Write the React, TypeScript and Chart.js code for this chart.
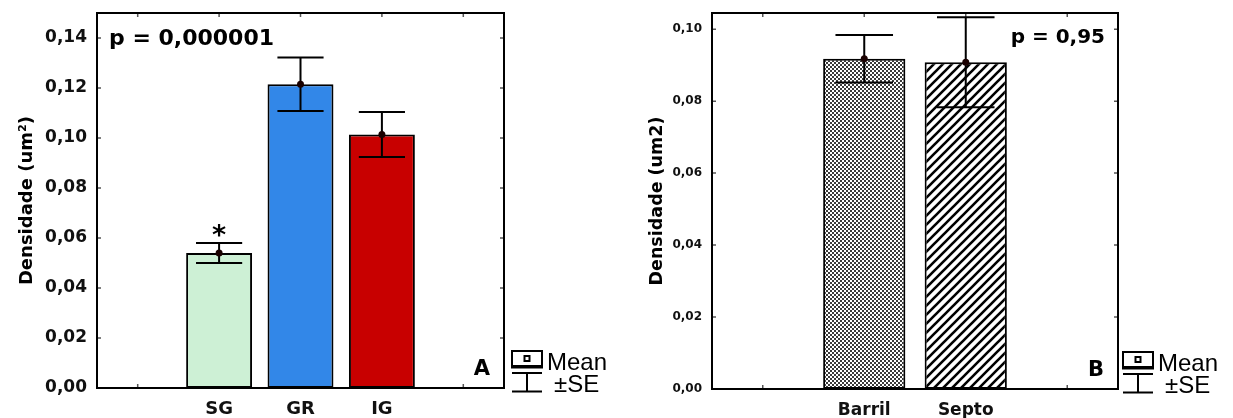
import React, { useEffect, useRef } from "react";
import { Chart, registerables } from "chart.js";

Chart.register(...registerables);

// ---------- Panel A data ----------
const categoriesA = ["", "SG", "GR", "IG", ""];
const meansA = [null, 0.054, 0.1215, 0.1014, null];
const seA = [null, 0.004, 0.0107, 0.009, null];
const marksA = ["", "*", "", "", ""];
const colorsA = ["#ffffff", "#cdf0d5", "#3287e8", "#c80000", "#ffffff"];
const yTicksA = [0, 0.02, 0.04, 0.06, 0.08, 0.1, 0.12, 0.14];
const yMaxA = 0.15;
const pTextA = "p = 0,000001";

// ---------- Panel B data ----------
const categoriesB = ["", "Barril", "Septo", ""];
const meansB = [null, 0.0918, 0.0908, null];
const seB = [null, 0.0066, 0.0125, null];
const marksB = ["", "", "", ""];
const fillsB = ["none", "dots", "hatch", "none"];
const yTicksB = [0, 0.02, 0.04, 0.06, 0.08, 0.1];
const yMaxB = 0.1045;
const pTextB = "p = 0,95";

const DV = "DejaVu Sans";
const LS = "Liberation Sans";

function dotPattern(ctx: CanvasRenderingContext2D) {
  const c = document.createElement("canvas");
  c.width = 4;
  c.height = 4;
  const g = c.getContext("2d")!;
  g.fillStyle = "#ffffff";
  g.fillRect(0, 0, 4, 4);
  g.fillStyle = "#3a3a3a";
  g.fillRect(0, 0, 2, 2);
  g.fillRect(2, 2, 2, 2);
  return ctx.createPattern(c, "repeat");
}

function hatchPattern(ctx: CanvasRenderingContext2D) {
  const s = 9;
  const c = document.createElement("canvas");
  c.width = s;
  c.height = s;
  const g = c.getContext("2d")!;
  g.fillStyle = "#ffffff";
  g.fillRect(0, 0, s, s);
  g.strokeStyle = "#000000";
  g.lineWidth = 2.6;
  g.beginPath();
  g.moveTo(-2, 2);
  g.lineTo(2, -2);
  g.moveTo(0, s);
  g.lineTo(s, 0);
  g.moveTo(s - 2, s + 2);
  g.lineTo(s + 2, s - 2);
  g.stroke();
  return ctx.createPattern(c, "repeat");
}

type Panel = {
  id: string;
  labels: string[];
  means: (number | null)[];
  se: (number | null)[];
  marks: string[];
  fills: (ctx: CanvasRenderingContext2D) => any[];
  yMax: number;
  yTicks: number[];
  padding: { left: number; top: number; right: number; bottom: number };
  yWidth: number;
  xHeight: number;
  tickFont: number;
  tickPad: number;
  xFont: number;
  xPad: number;
  yTitle: string;
  titleFont: number;
  titlePad: number;
  pText: string;
  pFont: number;
  pAlign: "left" | "right";
  pDx: number;
  pDy: number;
  letter: string;
  letterFont: number;
  legendDx: number;
};

function drawLegend(ctx: CanvasRenderingContext2D, x0: number, bottom: number) {
  ctx.save();
  ctx.strokeStyle = "#000";
  ctx.lineWidth = 2;
  // mean box icon
  ctx.strokeRect(x0, bottom - 37, 30, 15);
  ctx.lineWidth = 3;
  ctx.beginPath();
  ctx.moveTo(x0 - 1, bottom - 21);
  ctx.lineTo(x0 + 31, bottom - 21);
  ctx.stroke();
  ctx.fillStyle = "#000";
  ctx.fillRect(x0 + 11.5, bottom - 33, 7, 7);
  ctx.fillStyle = "#fff";
  ctx.fillRect(x0 + 13.5, bottom - 31, 3, 3);
  // whisker icon
  ctx.lineWidth = 2;
  ctx.beginPath();
  ctx.moveTo(x0, bottom - 15);
  ctx.lineTo(x0 + 30, bottom - 15);
  ctx.moveTo(x0 + 15, bottom - 15);
  ctx.lineTo(x0 + 15, bottom + 3.5);
  ctx.moveTo(x0, bottom + 3.5);
  ctx.lineTo(x0 + 30, bottom + 3.5);
  ctx.stroke();
  ctx.fillStyle = "#000";
  ctx.font = `24px "${LS}"`;
  ctx.textAlign = "left";
  ctx.textBaseline = "alphabetic";
  ctx.fillText("Mean", x0 + 35, bottom - 18);
  ctx.fillText("\u00B1SE", x0 + 42, bottom + 4);
  ctx.restore();
}

function buildConfig(p: Panel, ctx: CanvasRenderingContext2D): any {
  const overlay = {
    id: "overlay" + p.id,
    beforeDatasetsDraw(chart: any) {
      const c = chart.ctx;
      const { left, right, top, bottom } = chart.chartArea;
      const xs = chart.scales.x;
      const ys = chart.scales.y;
      c.save();
      c.strokeStyle = "#555";
      c.lineWidth = 1.5;
      c.beginPath();
      p.yTicks.forEach((v) => {
        const y = ys.getPixelForValue(v);
        c.moveTo(left, y);
        c.lineTo(left + 4, y);
        c.moveTo(right - 4, y);
        c.lineTo(right, y);
      });
      p.labels.forEach((_l, i) => {
        const x = xs.getPixelForValue(i);
        c.moveTo(x, top);
        c.lineTo(x, top + 4);
        c.moveTo(x, bottom - 4);
        c.lineTo(x, bottom);
      });
      c.stroke();
      c.restore();
    },
    afterDatasetsDraw(chart: any) {
      const c = chart.ctx;
      const { left, right, top, bottom } = chart.chartArea;
      const ys = chart.scales.y;
      const meta = chart.getDatasetMeta(0);
      c.save();
      // error bars and means
      meta.data.forEach((bar: any, i: number) => {
        const m = p.means[i];
        const s = p.se[i];
        if (m == null || s == null) return;
        const x = bar.x;
        const half = (bar.width * 0.7) / 2;
        const yt = ys.getPixelForValue(m + s);
        const yb = ys.getPixelForValue(m - s);
        const ym = ys.getPixelForValue(m);
        c.strokeStyle = "#000";
        c.lineWidth = 2;
        c.beginPath();
        c.moveTo(x, yt);
        c.lineTo(x, yb);
        c.moveTo(x - half, yt);
        c.lineTo(x + half, yt);
        c.moveTo(x - half, yb);
        c.lineTo(x + half, yb);
        c.stroke();
        c.fillStyle = "#1a0000";
        c.beginPath();
        c.arc(x, ym, 3.5, 0, Math.PI * 2);
        c.fill();
        if (p.marks[i]) {
          c.fillStyle = "#000";
          c.font = `bold 27px "${DV}"`;
          c.textAlign = "center";
          c.textBaseline = "alphabetic";
          c.fillText(p.marks[i], x, yt + 1);
        }
      });
      // frame
      c.strokeStyle = "#000";
      c.lineWidth = 2;
      c.strokeRect(left, top, right - left, bottom - top);
      // p value
      c.fillStyle = "#000";
      c.font = `bold ${p.pFont}px "${DV}"`;
      c.textBaseline = "alphabetic";
      c.textAlign = p.pAlign;
      c.fillText(p.pText, p.pAlign === "left" ? left + p.pDx : right - p.pDx, top + p.pDy);
      // panel letter
      c.font = `bold ${p.letterFont}px "${DV}"`;
      c.textAlign = "right";
      c.fillText(p.letter, right - 14, bottom - 13);
      c.restore();
      drawLegend(c, right + p.legendDx, bottom);
    },
  };

  return {
    type: "bar",
    data: {
      labels: p.labels,
      datasets: [
        {
          data: p.means,
          backgroundColor: p.fills(ctx),
          borderColor: "#000",
          borderWidth: 2,
          borderSkipped: false,
          barPercentage: 0.81,
          categoryPercentage: 1,
        },
      ],
    },
    options: {
      responsive: false,
      animation: false,
      events: [],
      layout: { padding: p.padding },
      plugins: { legend: { display: false }, tooltip: { enabled: false } },
      scales: {
        x: {
          grid: { display: false, drawTicks: false },
          border: { display: false },
          ticks: {
            font: { family: DV, size: p.xFont, weight: "bold" },
            color: "#111",
            padding: p.xPad,
            maxRotation: 0,
            autoSkip: false,
          },
          afterFit: (s: any) => {
            s.height = p.xHeight;
            s.paddingLeft = 0;
            s.paddingRight = 0;
          },
        },
        y: {
          min: 0,
          max: p.yMax,
          grid: { display: false, drawTicks: false },
          border: { display: false },
          ticks: {
            font: { family: DV, size: p.tickFont, weight: "bold" },
            color: "#111",
            padding: p.tickPad,
            callback: (v: any) => Number(v).toFixed(2).replace(".", ","),
          },
          afterBuildTicks: (s: any) => {
            s.ticks = p.yTicks.map((v) => ({ value: v }));
          },
          afterFit: (s: any) => {
            s.width = p.yWidth;
            s.paddingTop = 0;
            s.paddingBottom = 0;
          },
          title: {
            display: true,
            text: p.yTitle,
            color: "#000",
            font: { family: DV, size: p.titleFont, weight: "bold" },
            padding: { top: p.titlePad, bottom: 0 },
          },
        },
      },
    },
    plugins: [overlay],
  };
}

const panelA: Panel = {
  id: "A",
  labels: categoriesA,
  means: meansA,
  se: seA,
  marks: marksA,
  fills: () => colorsA,
  yMax: yMaxA,
  yTicks: yTicksA,
  padding: { left: 0, top: 13, right: 116, bottom: 0 },
  yWidth: 97,
  xHeight: 30,
  tickFont: 17,
  tickPad: 10,
  xFont: 18,
  xPad: 11,
  yTitle: "Densidade (um\u00B2)",
  titleFont: 18,
  titlePad: 17,
  pText: pTextA,
  pFont: 22,
  pAlign: "left",
  pDx: 12,
  pDy: 32,
  letter: "A",
  letterFont: 21,
  legendDx: 8,
};

const panelB: Panel = {
  id: "B",
  labels: categoriesB,
  means: meansB,
  se: seB,
  marks: marksB,
  fills: (ctx) =>
    fillsB.map((f) => (f === "dots" ? dotPattern(ctx) : f === "hatch" ? hatchPattern(ctx) : "#ffffff")),
  yMax: yMaxB,
  yTicks: yTicksB,
  padding: { left: 0, top: 13, right: 115, bottom: 0 },
  yWidth: 92,
  xHeight: 29,
  tickFont: 12,
  tickPad: 10,
  xFont: 17,
  xPad: 11,
  yTitle: "Densidade (um2)",
  titleFont: 17.5,
  titlePad: 27,
  pText: pTextB,
  pFont: 20,
  pAlign: "right",
  pDx: 13,
  pDy: 30,
  letter: "B",
  letterFont: 21,
  legendDx: 5,
};

function PanelChart({ cfg, left, width }: { cfg: Panel; left: number; width: number }) {
  const ref = useRef<HTMLCanvasElement>(null);
  useEffect(() => {
    const canvas = ref.current!;
    const ctx = canvas.getContext("2d")!;
    const chart = new Chart(canvas, buildConfig(cfg, ctx));
    return () => chart.destroy();
  }, [cfg]);
  return (
    <canvas
      ref={ref}
      width={width}
      height={418}
      style={{ position: "absolute", left, top: 0, width, height: 418, display: "block" }}
    />
  );
}

export default function App() {
  return (
    <div
      style={{
        position: "fixed",
        left: 0,
        top: 0,
        width: 1233,
        height: 418,
        background: "#ffffff",
        overflow: "hidden",
      }}
    >
      <PanelChart cfg={panelA} left={0} width={620} />
      <PanelChart cfg={panelB} left={620} width={613} />
    </div>
  );
}
